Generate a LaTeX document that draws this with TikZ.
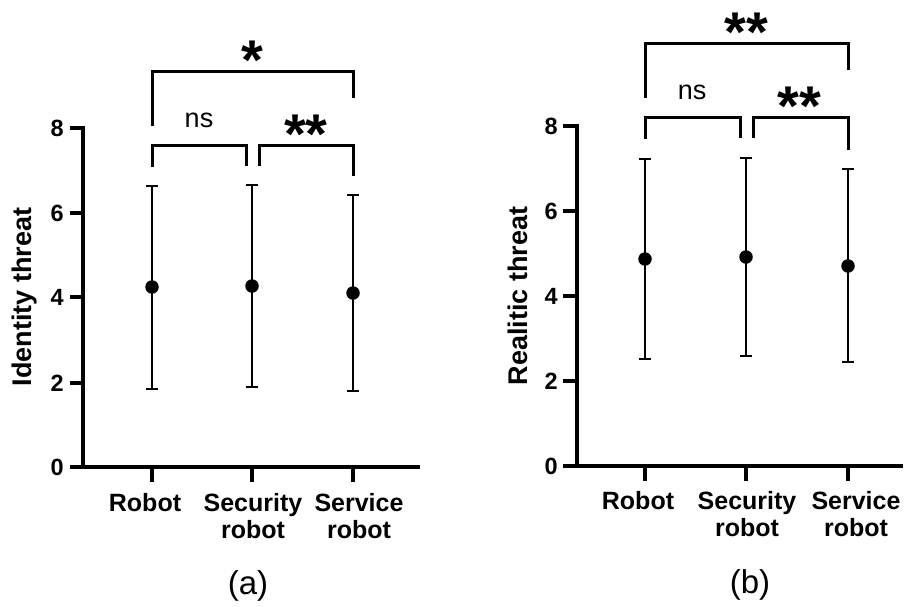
\documentclass[tikz,border=0pt]{standalone}
\usepackage{fontspec}
\setmainfont{Liberation Sans}
\begin{document}
\begin{tikzpicture}[x=1pt,y=-1pt,
  axisline/.style={line width=3.5pt},
  brk/.style={line width=3pt},
  ebar/.style={line width=1.3pt},
  meandot/.style={circle,fill=black,inner sep=0pt,minimum size=13.5pt},
  ticklab/.style={font=\fontsize{23.5}{23.5}\selectfont\bfseries,inner sep=0pt,anchor=east},
  catlab/.style={font=\fontsize{25}{27}\selectfont\bfseries,inner sep=0pt,align=center,anchor=north},
  ylab/.style={font=\fontsize{27}{27}\selectfont\bfseries,inner sep=0pt,rotate=90},
  sig/.style={font=\fontsize{56}{56}\selectfont\bfseries,inner sep=0pt,anchor=base},
  nslab/.style={font=\fontsize{27}{27}\selectfont,inner sep=0pt},
  panlab/.style={font=\fontsize{33}{33}\selectfont,inner sep=0pt}]
\useasboundingbox (0,0) rectangle (904,606);

% ---------------- panel (a) ----------------
\draw[axisline] (83,126) -- (83,467);
\draw[axisline] (70,467) -- (420,467);
\foreach \yy/\lab in {128/8,213/6,297/4,383/2,467/0}{
  \draw[axisline] (70,\yy) -- (83,\yy);
  \node[ticklab] at (64,\yy) {\lab};
}
\foreach \xx in {152,252,353}{\draw[axisline] (\xx,467) -- (\xx,482);}
\node[ylab] (ya) at (25,297) {Identity threat};
\node[catlab] (ca1) at (145,493) {Robot};
\node[catlab] (ca2) at (253,493) {Security\\robot};
\node[catlab] (ca3) at (359,493) {Service\\robot};
\node[panlab] (pa) at (248,586) {(a)};
% error bars
\foreach \xx/\tp/\bt/\mn [count=\i] in {152/186/389/287,252/185/387/286,353/195/391/293}{
  \draw[ebar] (\xx,\tp) -- (\xx,\bt);
  \draw[ebar] (\xx-6,\tp) -- (\xx+6,\tp);
  \draw[ebar] (\xx-6,\bt) -- (\xx+6,\bt);
  \node[meandot] (ma\i) at (\xx,\mn) {};
}
% brackets
\draw[brk] (152,126) -- (152,71) -- (353,71) -- (353,98);
\draw[brk] (152,167) -- (152,145) -- (246,145) -- (246,166);
\draw[brk] (259,166) -- (259,145) -- (353,145) -- (353,176);
\node[sig] (sa1) at (252,79) {*};
\node[nslab] (sa2) at (199,120) {ns};
\node[sig] (sa3) at (306,153) {**};

% ---------------- panel (b) ----------------
\draw[axisline] (577,124) -- (577,466);
\draw[axisline] (563,466) -- (903,466);
\foreach \yy/\lab in {126/8,211/6,296/4,381/2,466/0}{
  \draw[axisline] (563,\yy) -- (577,\yy);
  \node[ticklab] at (558,\yy) {\lab};
}
\foreach \xx in {645,746,848}{\draw[axisline] (\xx,466) -- (\xx,481);}
\node[ylab] (yb) at (518,296) {Realitic threat};
\node[catlab] (cb1) at (638,491) {Robot};
\node[catlab] (cb2) at (747,491) {Security\\robot};
\node[catlab] (cb3) at (856,491) {Service\\robot};
\node[panlab] (pb) at (750,585) {(b)};
\foreach \xx/\tp/\bt/\mn [count=\i] in {645/159/359/259,746/158/356/257,848/169/362/266}{
  \draw[ebar] (\xx,\tp) -- (\xx,\bt);
  \draw[ebar] (\xx-6,\tp) -- (\xx+6,\tp);
  \draw[ebar] (\xx-6,\bt) -- (\xx+6,\bt);
  \node[meandot] (mb\i) at (\xx,\mn) {};
}
\draw[brk] (645,98) -- (645,43) -- (848,43) -- (848,70);
\draw[brk] (645,139) -- (645,117) -- (740,117) -- (740,138);
\draw[brk] (753,138) -- (753,117) -- (848,117) -- (848,150);
\node[sig] (sb1) at (746,51) {**};
\node[nslab] (sb2) at (692,92) {ns};
\node[sig] (sb3) at (799,125) {**};
\end{tikzpicture}
\end{document}
